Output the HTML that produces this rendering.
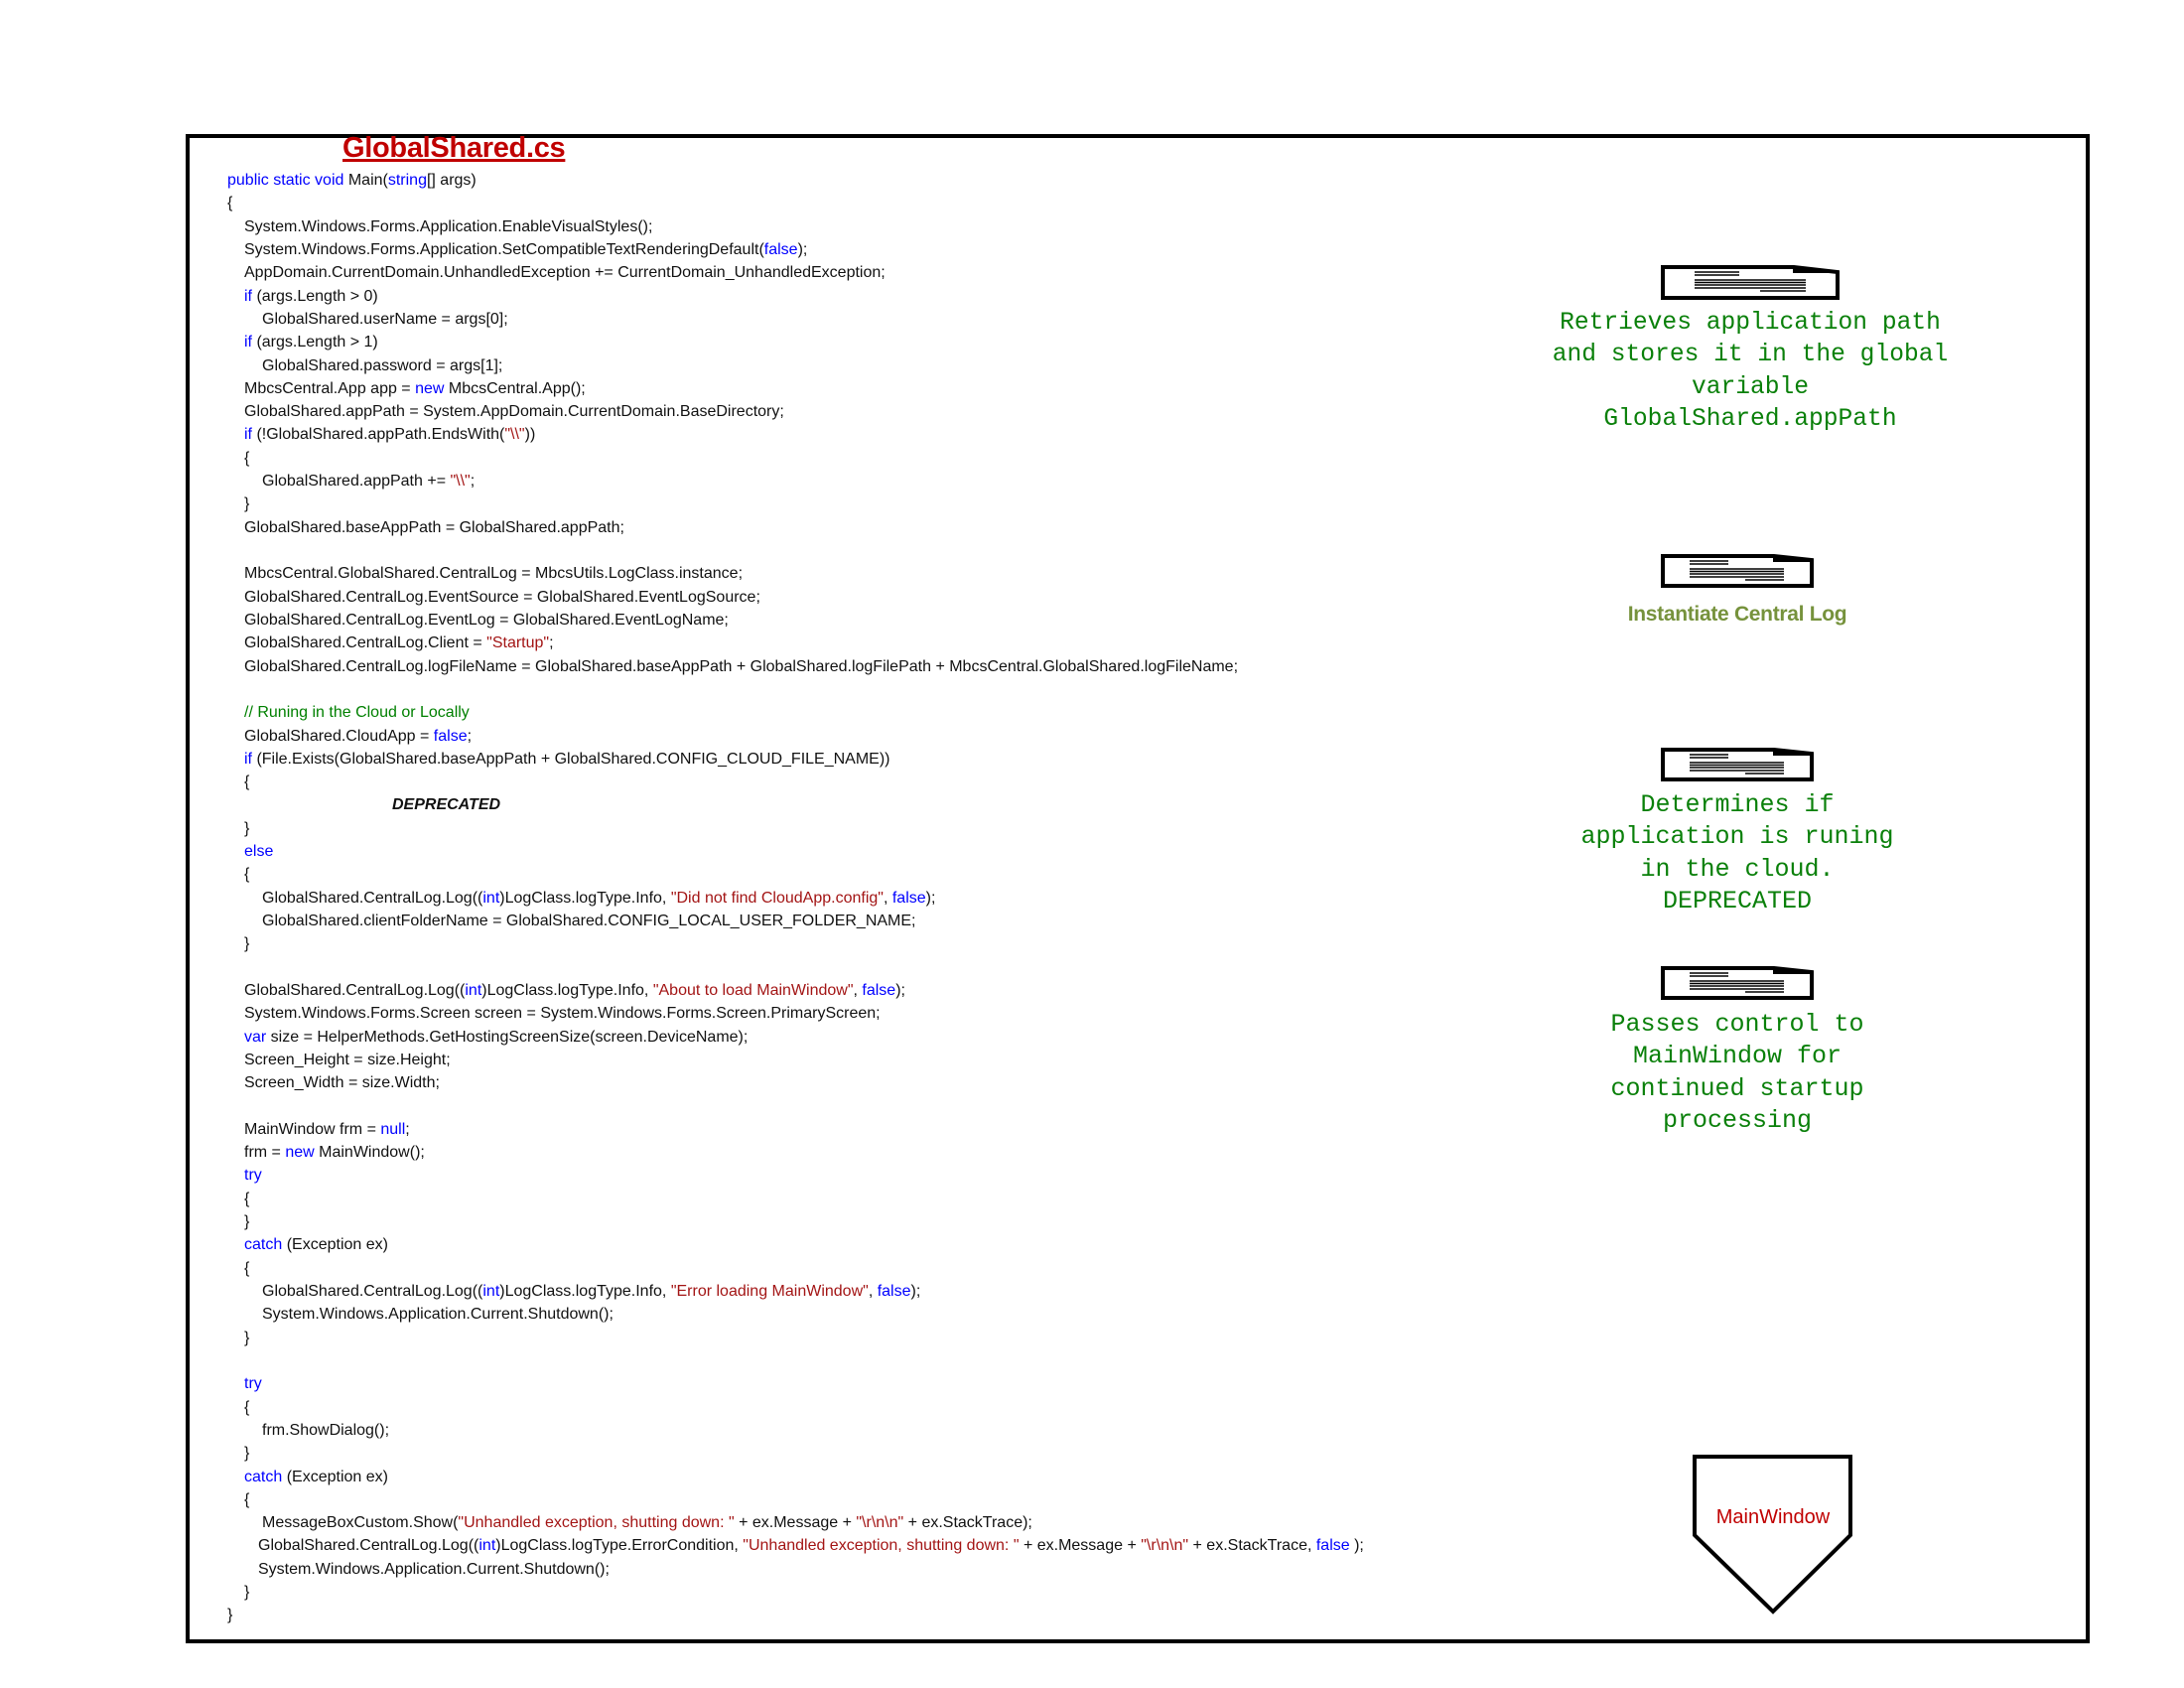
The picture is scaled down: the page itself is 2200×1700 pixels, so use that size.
<!DOCTYPE html>
<html><head><meta charset="utf-8">
<style>
html,body{margin:0;padding:0;background:#fff;}
#c{position:relative;width:2200px;height:1700px;overflow:hidden;background:#fff;}
.frame{position:absolute;left:187px;top:135px;width:1910px;height:1512px;border:4px solid #000;box-sizing:content-box;}
.title{position:absolute;left:345px;top:133px;font-family:"Liberation Sans",sans-serif;font-weight:bold;font-size:29px;color:#c00000;text-decoration:underline;text-decoration-thickness:3px;letter-spacing:-0.3px;}
.code{position:absolute;left:0;top:170px;font-family:"Liberation Sans",sans-serif;font-size:16px;line-height:23.32px;color:#111;}
.code div{height:23.32px;white-space:pre;}
.i0{padding-left:229px;}
.i1{padding-left:246px;}
.i2{padding-left:264px;}
.i3{padding-left:260px;}
.k{color:#0000ff;}
.s{color:#a31515;}
.g{color:#008000;}
.code div.dep{padding-left:395px;font-weight:bold;font-style:italic;}
.note{position:absolute;font-family:"Liberation Mono",monospace;color:#0a800a;text-align:center;white-space:pre;line-height:32.3px;}
</style></head><body><div id="c">
<div class="frame"></div>
<div class="title">GlobalShared.cs</div>
<div class="code"><div class="i0"><span class="k">public static void</span> Main(<span class="k">string</span>[] args)</div><div class="i0">{</div><div class="i1">System.Windows.Forms.Application.EnableVisualStyles();</div><div class="i1">System.Windows.Forms.Application.SetCompatibleTextRenderingDefault(<span class="k">false</span>);</div><div class="i1">AppDomain.CurrentDomain.UnhandledException += CurrentDomain_UnhandledException;</div><div class="i1"><span class="k">if</span> (args.Length &gt; 0)</div><div class="i2">GlobalShared.userName = args[0];</div><div class="i1"><span class="k">if</span> (args.Length &gt; 1)</div><div class="i2">GlobalShared.password = args[1];</div><div class="i1">MbcsCentral.App app = <span class="k">new</span> MbcsCentral.App();</div><div class="i1">GlobalShared.appPath = System.AppDomain.CurrentDomain.BaseDirectory;</div><div class="i1"><span class="k">if</span> (!GlobalShared.appPath.EndsWith(<span class="s">"\\"</span>))</div><div class="i1">{</div><div class="i2">GlobalShared.appPath += <span class="s">"\\"</span>;</div><div class="i1">}</div><div class="i1">GlobalShared.baseAppPath = GlobalShared.appPath;</div><div></div><div class="i1">MbcsCentral.GlobalShared.CentralLog = MbcsUtils.LogClass.instance;</div><div class="i1">GlobalShared.CentralLog.EventSource = GlobalShared.EventLogSource;</div><div class="i1">GlobalShared.CentralLog.EventLog = GlobalShared.EventLogName;</div><div class="i1">GlobalShared.CentralLog.Client = <span class="s">"Startup"</span>;</div><div class="i1">GlobalShared.CentralLog.logFileName = GlobalShared.baseAppPath + GlobalShared.logFilePath + MbcsCentral.GlobalShared.logFileName;</div><div></div><div class="i1"><span class="g">// Runing in the Cloud or Locally</span></div><div class="i1">GlobalShared.CloudApp = <span class="k">false</span>;</div><div class="i1"><span class="k">if</span> (File.Exists(GlobalShared.baseAppPath + GlobalShared.CONFIG_CLOUD_FILE_NAME))</div><div class="i1">{</div><div class="dep">DEPRECATED</div><div class="i1">}</div><div class="i1"><span class="k">else</span></div><div class="i1">{</div><div class="i2">GlobalShared.CentralLog.Log((<span class="k">int</span>)LogClass.logType.Info, <span class="s">"Did not find CloudApp.config"</span>, <span class="k">false</span>);</div><div class="i2">GlobalShared.clientFolderName = GlobalShared.CONFIG_LOCAL_USER_FOLDER_NAME;</div><div class="i1">}</div><div></div><div class="i1">GlobalShared.CentralLog.Log((<span class="k">int</span>)LogClass.logType.Info, <span class="s">"About to load MainWindow"</span>, <span class="k">false</span>);</div><div class="i1">System.Windows.Forms.Screen screen = System.Windows.Forms.Screen.PrimaryScreen;</div><div class="i1"><span class="k">var</span> size = HelperMethods.GetHostingScreenSize(screen.DeviceName);</div><div class="i1">Screen_Height = size.Height;</div><div class="i1">Screen_Width = size.Width;</div><div></div><div class="i1">MainWindow frm = <span class="k">null</span>;</div><div class="i1">frm = <span class="k">new</span> MainWindow();</div><div class="i1"><span class="k">try</span></div><div class="i1">{</div><div class="i1">}</div><div class="i1"><span class="k">catch</span> (Exception ex)</div><div class="i1">{</div><div class="i2">GlobalShared.CentralLog.Log((<span class="k">int</span>)LogClass.logType.Info, <span class="s">"Error loading MainWindow"</span>, <span class="k">false</span>);</div><div class="i2">System.Windows.Application.Current.Shutdown();</div><div class="i1">}</div><div></div><div class="i1"><span class="k">try</span></div><div class="i1">{</div><div class="i2">frm.ShowDialog();</div><div class="i1">}</div><div class="i1"><span class="k">catch</span> (Exception ex)</div><div class="i1">{</div><div class="i2">MessageBoxCustom.Show(<span class="s">"Unhandled exception, shutting down: "</span> + ex.Message + <span class="s">"\r\n\n"</span> + ex.StackTrace);</div><div class="i3">GlobalShared.CentralLog.Log((<span class="k">int</span>)LogClass.logType.ErrorCondition, <span class="s">"Unhandled exception, shutting down: "</span> + ex.Message + <span class="s">"\r\n\n"</span> + ex.StackTrace, <span class="k">false</span> );</div><div class="i3">System.Windows.Application.Current.Shutdown();</div><div class="i1">}</div><div class="i0">}</div></div>

<svg width="2200" height="1700" style="position:absolute;left:0;top:0" xmlns="http://www.w3.org/2000/svg">
 <g fill="none" stroke="#000">
  <path d="M1675 269 H1807 L1851 274 V300 H1675 Z" stroke-width="4"/>
  <path d="M1807 269 L1807 274 L1851 274 Z" fill="#000" stroke-width="2"/>
  <g stroke-width="1.5"><path d="M1707 274H1752M1707 277H1752M1707 282H1819M1707 284.5H1819M1707 287H1819M1707 290H1819M1773 293H1819"/></g>
  <path d="M1675 560 H1787 L1825 564 V590 H1675 Z" stroke-width="4"/>
  <path d="M1787 560 L1787 565 L1825 565 Z" fill="#000" stroke-width="2"/>
  <g stroke-width="1.5"><path d="M1702 565H1741M1702 568H1741M1702 573H1797M1702 575.5H1797M1702 578H1797M1702 581H1797M1758 584H1797"/></g>
  <path d="M1675 755 H1787 L1825 759 V785 H1675 Z" stroke-width="4"/>
  <path d="M1787 755 L1787 760 L1825 760 Z" fill="#000" stroke-width="2"/>
  <g stroke-width="1.5"><path d="M1702 760H1741M1702 763H1741M1702 768H1797M1702 770.5H1797M1702 773H1797M1702 776H1797M1758 779H1797"/></g>
  <path d="M1675 975 H1787 L1825 979 V1005 H1675 Z" stroke-width="4"/>
  <path d="M1787 975 L1787 980 L1825 980 Z" fill="#000" stroke-width="2"/>
  <g stroke-width="1.5"><path d="M1702 980H1741M1702 983H1741M1702 988H1797M1702 990.5H1797M1702 993H1797M1702 996H1797M1758 999H1797"/></g>
  <path d="M1707 1467 H1864 V1546 L1786 1623 L1707 1546 Z" stroke-width="4"/>
 </g>
 <text x="1786" y="1534" text-anchor="middle" font-family="Liberation Sans, sans-serif" font-size="20" fill="#c00000">MainWindow</text>
</svg>

<div class="note" style="left:1513px;width:500px;top:310px;font-size:24.6px;">Retrieves application path
and stores it in the global
variable
GlobalShared.appPath</div>
<div class="note" style="left:1550px;width:400px;top:603px;font-family:'Liberation Sans',sans-serif;font-weight:bold;font-size:21px;color:#76923c;letter-spacing:-0.3px;">Instantiate Central Log</div>
<div class="note" style="left:1500px;width:500px;top:795px;font-size:25px;">Determines if
application is runing
in the cloud.
DEPRECATED</div>
<div class="note" style="left:1500px;width:500px;top:1016px;font-size:25px;">Passes control to
MainWindow for
continued startup
processing</div>
</div></body></html>
